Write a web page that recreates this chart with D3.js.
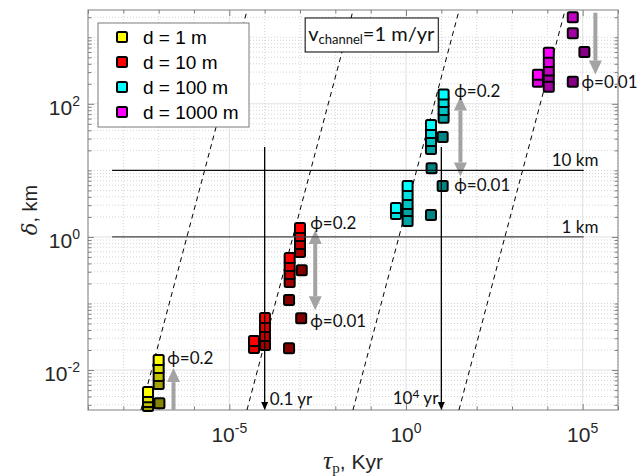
<!DOCTYPE html>
<html>
<head>
<meta charset="utf-8">
<script src="https://cdn.jsdelivr.net/npm/d3@7"></script>
<style>
body { margin: 0; background: #fff; }
svg { display: block; }
</style>
</head>
<body>
<svg id="chart" width="642" height="476"></svg>
<script>
// ---- data ----
const legendLabels = ["d = 1 m", "d = 10 m", "d = 100 m", "d = 1000 m"];
const groupColors = [[255, 255, 0], [255, 0, 0], [0, 255, 255], [255, 0, 255]];
// brightness per phi level (0 = phi 0.2 ... 4 = phi 0.01)
const shadeFactors = [1, 0.88, 0.76, 0.64, 0.52];

// [tau (Kyr), delta (km), phi level]
const pts1m = [
    [5.0e-8, 0.00468, 0], [5.0e-8, 0.00389, 1], [5.0e-8, 0.00331, 2], [5.0e-8, 0.00288, 3],
    [1.0e-7, 0.0141, 0], [1.0e-7, 0.0107, 1], [1.0e-7, 0.00813, 2], [1.0e-7, 0.00617, 3],
    [1.05e-7, 0.00316, 4]
];
const pts10m = [
    [5.0e-5, 0.0274, 0], [5.0e-5, 0.0214, 1],
    [1.02e-4, 0.0604, 0], [1.02e-4, 0.0445, 1], [1.02e-4, 0.0324, 2], [1.02e-4, 0.0238, 3],
    [5.1e-4, 0.483, 0], [5.1e-4, 0.366, 1], [5.1e-4, 0.278, 2], [5.1e-4, 0.21, 3],
    [4.9e-4, 0.113, 4], [4.9e-4, 0.0213, 4],
    [1.0e-3, 1.36, 0], [1.0e-3, 1.03, 1], [1.0e-3, 0.785, 2], [1.0e-3, 0.594, 3],
    [1.12e-3, 0.316, 4], [1.08e-3, 0.0602, 4]
];
const pts100m = [
    [0.52, 2.73, 0], [0.52, 2.22, 1],
    [1.11, 5.85, 0], [1.11, 4.28, 1], [1.11, 3.13, 2], [1.11, 2.30, 3], [1.11, 1.74, 3],
    [5.1, 2.14, 4],
    [5.1, 48, 0], [5.1, 36.6, 1], [5.1, 27.7, 2], [5.1, 21, 3],
    [5.3, 10.8, 4],
    [11.6, 138, 0], [11.6, 107, 1], [11.6, 81, 2], [11.6, 62, 3],
    [10.9, 31.8, 4], [10.9, 5.85, 4]
];
const pts1000m = [
    [5400, 274, 0], [5400, 214, 1],
    [11000, 588, 0], [11000, 427, 1], [11000, 316, 2], [11000, 239, 3], [11000, 180, 3],
    [52500, 2000, 2], [52500, 1150, 3],
    [112000, 603, 4], [52500, 214, 4]
];
const groupPoints = [pts1m, pts10m, pts100m, pts1000m];

const xDomain = [1e-9, 1e6];
const yDomain = [0.00251, 2570];
const xTickValues = [1e-5, 1, 1e5];
const yTickValues = [1e-2, 1, 1e2];

// dashed guide lines: tau where delta = 1 km, delta ~ tau^2
const guideTau = [6.3e-7, 6.3e-4, 0.63, 630];

// horizontal reference depths
const refDepth = [10, 1];
const refDepthLabels = ["10 km", "1 km"];
const refDepthSpan = [4.8e-9, 1.07e5];
// vertical reference times (Kyr)
const refTime = [1e-4, 10];
const refTimeTop = 22.5;

// phi notes and grey arrows
const phiNotes = [
    { tau: 1.75e-7, delta: 0.0123, text: "ϕ=0.2" },
    { tau: 1.95e-3, delta: 1.32, text: "ϕ=0.2" },
    { tau: 1.95e-3, delta: 0.0443, text: "ϕ=0.01" },
    { tau: 23.3, delta: 127, text: "ϕ=0.2" },
    { tau: 23.3, delta: 4.9, text: "ϕ=0.01" },
    { tau: 9.3e4, delta: 174, text: "ϕ=0.01" }
];
const phiArrows = [
    { tau: 2.63e-7, from: 0.00251, to: 0.0107, both: false },
    { tau: 2.7e-3, from: 1.27, to: 0.079, both: true },
    { tau: 34.7, from: 129, to: 8.1, both: true },
    { tau: 2.29e5, from: 2340, to: 275, both: false }
];

// ---- drawing ----
const svg = d3.select("#chart");
const area = { left: 88, right: 618, top: 10, bottom: 410 };
const axisColor = "#808080";
const sansFont = "'Liberation Sans', Arial, Helvetica, sans-serif";
const noteFont = "Lato, 'Open Sans', sans-serif";

const x = d3.scaleLog().domain(xDomain).range([area.left, area.right]);
const y = d3.scaleLog().domain(yDomain).range([area.bottom, area.top]);

// minor tick positions
const xMinor = [];
for (let n = -9; n <= 6; n++) {
    const v = +("1e" + n);
    if (!xTickValues.includes(v)) xMinor.push(v);
}
const yMinor = [];
for (let n = -3; n <= 3; n++) {
    for (let k = 1; k <= 9; k++) {
        const v = +(k + "e" + n);
        if (v >= yDomain[0] && v <= yDomain[1] && !yTickValues.includes(v)) yMinor.push(v);
    }
}

// grid
const grid = svg.append("g");
grid.selectAll(".gx-minor").data(xMinor).enter().append("line")
    .attr("x1", d => x(d)).attr("x2", d => x(d))
    .attr("y1", area.top).attr("y2", area.bottom)
    .attr("stroke", "#d4d4d4").attr("stroke-dasharray", "1,2");
grid.selectAll(".gy-minor").data(yMinor).enter().append("line")
    .attr("y1", d => y(d)).attr("y2", d => y(d))
    .attr("x1", area.left).attr("x2", area.right)
    .attr("stroke", "#d4d4d4").attr("stroke-dasharray", "1,2");
grid.selectAll(".gx-major").data(xTickValues).enter().append("line")
    .attr("x1", d => x(d)).attr("x2", d => x(d))
    .attr("y1", area.top).attr("y2", area.bottom)
    .attr("stroke", "#e0e0e0");
grid.selectAll(".gy-major").data(yTickValues).enter().append("line")
    .attr("y1", d => y(d)).attr("y2", d => y(d))
    .attr("x1", area.left).attr("x2", area.right)
    .attr("stroke", "#e0e0e0");

// ticks on all four sides
function ticks(gen, vals, size, transform) {
    svg.append("g").attr("transform", transform)
        .call(gen.tickValues(vals).tickSize(size).tickFormat(""))
        .call(g => g.select(".domain").remove())
        .call(g => g.selectAll("line").attr("stroke", axisColor));
}
ticks(d3.axisBottom(x), xMinor, -3.5, `translate(0,${area.bottom})`);
ticks(d3.axisTop(x), xMinor, -3.5, `translate(0,${area.top})`);
ticks(d3.axisBottom(x), xTickValues, -6, `translate(0,${area.bottom})`);
ticks(d3.axisTop(x), xTickValues, -6, `translate(0,${area.top})`);
ticks(d3.axisLeft(y), yMinor, -3.5, `translate(${area.left},0)`);
ticks(d3.axisRight(y), yMinor, -3.5, `translate(${area.right},0)`);
ticks(d3.axisLeft(y), yTickValues, -6, `translate(${area.left},0)`);
ticks(d3.axisRight(y), yTickValues, -6, `translate(${area.right},0)`);

svg.append("rect")
    .attr("x", area.left).attr("y", area.top)
    .attr("width", area.right - area.left).attr("height", area.bottom - area.top)
    .attr("fill", "none").attr("stroke", axisColor).attr("stroke-width", 1);

// power-of-ten labels
function powerLabel(sel, v) {
    const e = Math.round(Math.log10(v));
    sel.append("tspan").text("10");
    sel.append("tspan").attr("font-size", 14).attr("dy", -9).text(String(e));
}
svg.selectAll(".xlab").data(xTickValues).enter().append("text")
    .attr("x", d => x(d)).attr("y", area.bottom + 32)
    .attr("text-anchor", "middle")
    .style("font-family", sansFont).style("font-size", "21px").attr("fill", "#262626")
    .each(function(d) { powerLabel(d3.select(this), d); });
svg.selectAll(".ylab").data(yTickValues).enter().append("text")
    .attr("x", area.left - 8).attr("y", d => y(d) + 11)
    .attr("text-anchor", "end")
    .style("font-family", sansFont).style("font-size", "21px").attr("fill", "#262626")
    .each(function(d) { powerLabel(d3.select(this), d); });

// axis titles
const yTitle = svg.append("text")
    .attr("transform", `translate(37,${(area.top + area.bottom) / 2}) rotate(-90)`)
    .attr("text-anchor", "middle").attr("fill", "#262626");
yTitle.append("tspan").style("font-family", "'DejaVu Serif', 'Liberation Serif', serif")
    .style("font-style", "italic").style("font-size", "21px").text("δ");
yTitle.append("tspan").style("font-family", sansFont).style("font-size", "20px").text(", km");

const xTitle = svg.append("text")
    .attr("x", (area.left + area.right) / 2).attr("y", 469)
    .attr("text-anchor", "middle").attr("fill", "#262626");
xTitle.append("tspan").style("font-family", "'Liberation Serif', serif")
    .style("font-style", "italic").style("font-size", "26px").text("τ");
xTitle.append("tspan").style("font-family", "'Liberation Serif', serif")
    .style("font-size", "15px").attr("dy", 4).text("p");
xTitle.append("tspan").style("font-family", sansFont)
    .style("font-size", "21px").attr("dy", -4).text(", Kyr");

// dashed guide lines (delta = (tau / tau1)^2)
const lineGen = d3.line().x(d => x(d[0])).y(d => y(d[1]));
const dashed = svg.append("g");
guideTau.forEach(t1 => {
    const pts = yDomain.map(dv => [t1 * Math.sqrt(dv), dv]);
    dashed.append("path").attr("d", lineGen(pts))
        .attr("fill", "none").attr("stroke", "#000").attr("stroke-width", 1)
        .attr("stroke-dasharray", "5,4");
});

// markers
function shadeColor(base, level) {
    const f = shadeFactors[level];
    return d3.rgb(base[0] * f, base[1] * f, base[2] * f).formatHex();
}
const markerSize = 10;
groupPoints.forEach((pts, gi) => {
    const ordered = pts.slice().sort((a, b) => b[2] - a[2]);
    svg.append("g").selectAll("rect").data(ordered).enter().append("rect")
        .attr("x", d => x(d[0]) - markerSize / 2)
        .attr("y", d => y(d[1]) - markerSize / 2)
        .attr("width", markerSize).attr("height", markerSize)
        .attr("rx", 1.5)
        .attr("fill", d => shadeColor(groupColors[gi], d[2]))
        .attr("stroke", "#000").attr("stroke-width", 2);
});

// grey phi arrows
const arrowColor = "#a3a3a3";
const headLen = 14, headHalf = 6.5;
phiArrows.forEach(a => {
    const ax = x(a.tau), y0 = y(a.from), y1 = y(a.to);
    const dir = y1 > y0 ? 1 : -1;
    const s0 = a.both ? y0 + dir * headLen : y0;
    const s1 = y1 - dir * headLen;
    svg.append("line").attr("x1", ax).attr("x2", ax).attr("y1", s0).attr("y2", s1)
        .attr("stroke", arrowColor).attr("stroke-width", 4);
    const head = (tip, d) => `M${ax},${tip} L${ax - headHalf},${tip - d * headLen} L${ax + headHalf},${tip - d * headLen} Z`;
    svg.append("path").attr("d", head(y1, dir)).attr("fill", arrowColor);
    if (a.both) svg.append("path").attr("d", head(y0, -dir)).attr("fill", arrowColor);
});

// horizontal reference lines
svg.selectAll(".refh").data(refDepth).enter().append("line")
    .attr("x1", x(refDepthSpan[0])).attr("x2", x(refDepthSpan[1]))
    .attr("y1", d => y(d)).attr("y2", d => y(d))
    .attr("stroke", (d, i) => i === 0 ? "#111" : "#444").attr("stroke-width", 1.2);
svg.selectAll(".refhlab").data(refDepth).enter().append("text")
    .attr("x", x(2.8e5)).attr("y", d => y(d) - 4)
    .attr("text-anchor", "end")
    .style("font-family", noteFont).style("font-size", "17px").attr("fill", "#111")
    .text((d, i) => refDepthLabels[i]);

// vertical reference lines with arrow heads
refTime.forEach(t => {
    const vx = x(t);
    svg.append("line").attr("x1", vx).attr("x2", vx)
        .attr("y1", y(refTimeTop)).attr("y2", area.bottom - 6)
        .attr("stroke", "#000").attr("stroke-width", 1.3);
    svg.append("path")
        .attr("d", `M${vx},${area.bottom} L${vx - 3.5},${area.bottom - 8} L${vx + 3.5},${area.bottom - 8} Z`)
        .attr("fill", "#000");
});
svg.append("text")
    .attr("x", x(refTime[0]) + 5).attr("y", area.bottom - 5)
    .style("font-family", noteFont).style("font-size", "17px").attr("fill", "#111")
    .text("0.1 yr");
const t4 = svg.append("text")
    .attr("x", x(refTime[1]) - 3).attr("y", area.bottom - 6)
    .attr("text-anchor", "end")
    .style("font-family", noteFont).style("font-size", "17px").attr("fill", "#111");
t4.append("tspan").text("10");
t4.append("tspan").attr("font-size", 12).attr("dy", -6).text("4");
t4.append("tspan").attr("dy", 6).text(" yr");

// phi notes
svg.selectAll(".phi").data(phiNotes).enter().append("text")
    .attr("x", d => x(d.tau)).attr("y", d => y(d.delta))
    .style("font-family", noteFont).style("font-size", "17px").attr("fill", "#111")
    .text(d => d.text);

// v_channel box
const vx0 = x(1.4e-3), vy0 = y(1950);
const vBox = svg.append("g");
const vRect = vBox.append("rect")
    .attr("x", vx0).attr("y", vy0).attr("height", 34)
    .attr("fill", "#fff").attr("stroke", "#000").attr("stroke-width", 1);
const vText = vBox.append("text")
    .attr("x", vx0 + 3).attr("y", vy0 + 23)
    .style("font-family", noteFont).style("font-size", "20px").attr("fill", "#111");
vText.append("tspan").text("v");
vText.append("tspan").attr("font-size", 13).attr("dy", 3).text("channel");
vText.append("tspan").attr("dy", -3).text("=1 m/yr");
vRect.attr("width", vText.node().getComputedTextLength() + 7);

// legend
const legend = svg.append("g").attr("transform", "translate(98,23)");
legend.append("rect").attr("width", 151).attr("height", 104)
    .attr("fill", "#fff").attr("stroke", "#7a7a7a").attr("stroke-width", 1);
const rows = legend.selectAll(".row").data(legendLabels).enter().append("g")
    .attr("transform", (d, i) => `translate(0,${14 + i * 25})`);
rows.append("rect")
    .attr("x", 19).attr("y", -5).attr("width", 10).attr("height", 10).attr("rx", 1.5)
    .attr("fill", (d, i) => shadeColor(groupColors[i], 0))
    .attr("stroke", "#000").attr("stroke-width", 2);
rows.append("text")
    .attr("x", 45).attr("y", 7)
    .style("font-family", sansFont).style("font-size", "19px").attr("fill", "#000")
    .text(d => d);
</script>
</body>
</html>
